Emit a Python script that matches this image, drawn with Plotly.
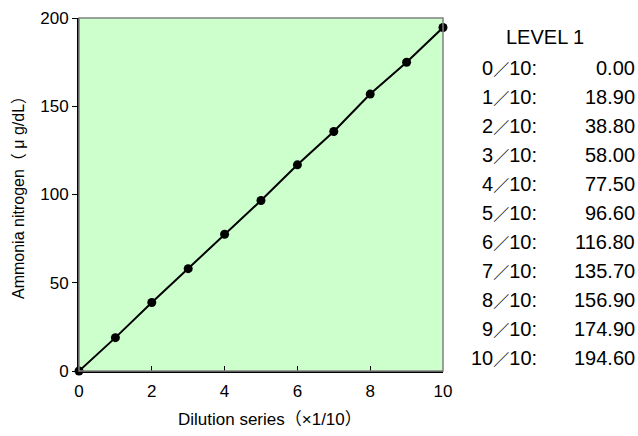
import plotly.graph_objects as go

dilution = [0, 1, 2, 3, 4, 5, 6, 7, 8, 9, 10]
ammonia = [0.00, 18.90, 38.80, 58.00, 77.50, 96.60, 116.80, 135.70, 156.90, 174.90, 194.60]
table_title = "LEVEL 1"
x_title = "Dilution series（×1/10）"
y_title = "Ammonia nitrogen（ μ g/dL）"
x_ticks = [0, 2, 4, 6, 8, 10]
y_ticks = [0, 50, 100, 150, 200]

FONT = "Liberation Sans, Arial, Noto Sans CJK JP, sans-serif"
SLASH = "<span style='font-size:16px'>／</span>"
row_labels = [f"{d}{SLASH}10:" for d in dilution]

fig = go.Figure()
fig.add_trace(go.Scatter(
    x=dilution, y=ammonia, mode="lines+markers",
    line=dict(color="black", width=2),
    marker=dict(color="black", size=9),
    showlegend=False, cliponaxis=False,
))

W, H = 638, 436
L, R, T, B = 79, 195, 18, 65
pw, ph = W - L - R, H - T - B

def px(x):
    return (x - L) / pw

def py(y):
    return (H - B - y) / ph

def txt(text, x, y, size, xanchor="center", angle=0):
    return dict(text=text, x=px(x), y=py(y), xref="paper", yref="paper",
                xanchor=xanchor, yanchor="middle", showarrow=False, textangle=angle,
                font=dict(size=size, color="black", family=FONT))

ann = [txt(table_title, 545, 37, 20)]
row_y0, row_dy = 67.5, 29.0
for i, (lab, val) in enumerate(zip(row_labels, ammonia)):
    yy = row_y0 + i * row_dy
    ann.append(txt(lab, 539, yy, 20, xanchor="right"))
    ann.append(txt(f"{val:.2f}", 637, yy, 20, xanchor="right"))

ann.append(txt(x_title, 270, 419, 17))
ann.append(txt(y_title, 18, 194, 16, angle=-90))

fig.update_layout(
    width=W, height=H,
    margin=dict(l=L, r=R, t=T, b=B, autoexpand=False),
    paper_bgcolor="white",
    plot_bgcolor="#CCFFCC",
    font=dict(family=FONT, color="black", size=16),
    annotations=ann,
    shapes=[dict(type="rect", xref="paper", yref="paper", x0=0, y0=0, x1=1, y1=1,
                 line=dict(color="#808080", width=1.5), layer="above")],
)
fig.update_xaxes(
    range=[0, 10], tickvals=x_ticks, ticks="inside", ticklen=5, tickcolor="black",
    showgrid=False, zeroline=False, showline=True, linecolor="black", linewidth=2,
    automargin=False, ticklabelstandoff=4,
    tickfont=dict(size=17),
)
fig.update_yaxes(
    range=[0, 200], tickvals=y_ticks, ticks="outside", ticklen=5, tickcolor="black",
    showgrid=False, zeroline=False, showline=True, linecolor="black", linewidth=2,
    automargin=False,
    tickfont=dict(size=17),
)
fig.write_html("out.html", config={"displayModeBar": False},
               post_script="document.body.style.margin='0';document.body.style.overflow='hidden';")
